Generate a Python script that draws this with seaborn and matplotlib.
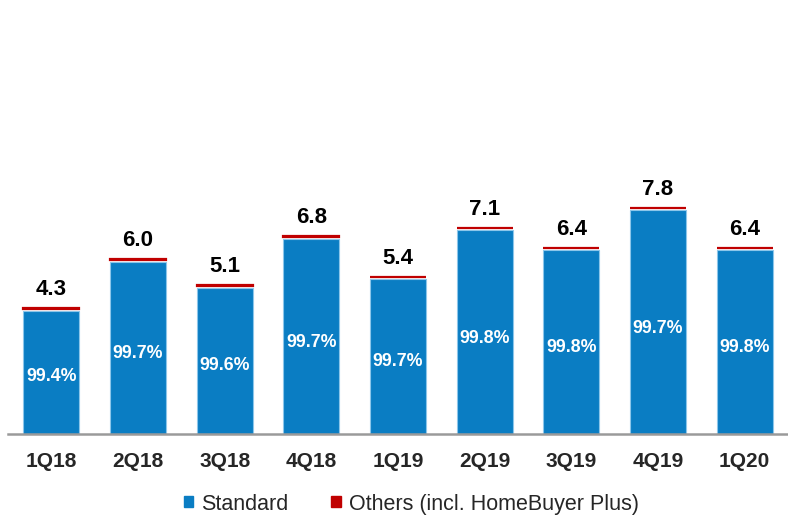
#!/usr/bin/env python3
import matplotlib
matplotlib.use("Agg")
import matplotlib.pyplot as plt
import pandas as pd
import seaborn as sns
from matplotlib.patches import Patch

QUARTERS = ["1Q18", "2Q18", "3Q18", "4Q18", "1Q19", "2Q19", "3Q19", "4Q19", "1Q20"]
TOTALS = [4.3, 6.0, 5.1, 6.8, 5.4, 7.1, 6.4, 7.8, 6.4]
STANDARD_PCT = [99.4, 99.7, 99.6, 99.7, 99.7, 99.8, 99.8, 99.7, 99.8]

BLUE = "#0A7DC3"
RED = "#C00000"

df = pd.DataFrame({"quarter": QUARTERS, "total": TOTALS, "pct": STANDARD_PCT})
df["standard"] = df["total"] * df["pct"] / 100.0
df["others"] = df["total"] - df["standard"]

sns.set_theme(style="white")
plt.rcParams["font.family"] = ["Liberation Sans", "DejaVu Sans"]

fig = plt.figure(figsize=(7.88, 5.17), dpi=100)
ax = fig.add_axes([8 / 788, 1 - 434 / 517, 1 - 8 / 788, 288 / 517])

sns.barplot(data=df, x="quarter", y="standard", color=BLUE, width=0.645,
            edgecolor="#8cc6ea", linewidth=0.8, saturation=1, ax=ax)
# thin "others" slice stacked on top; an edge keeps it visible at this scale
ax.bar(range(len(df)), df["others"], bottom=df["standard"] + 0.06, width=0.645,
       color=RED, edgecolor=RED, linewidth=1.6)

ax.set_xlim(-0.5, 8.5)
ax.set_ylim(0, 10)
ax.set_xlabel("")
ax.set_ylabel("")
ax.set_yticks([])
for s in ["top", "right", "left"]:
    ax.spines[s].set_visible(False)
ax.spines["bottom"].set_color("#9a9a9a")
ax.spines["bottom"].set_linewidth(1.8)
ax.tick_params(axis="x", length=0, pad=13)
for lbl in ax.get_xticklabels():
    lbl.set_fontweight("bold")
    lbl.set_fontsize(15)

for i, row in df.iterrows():
    ax.annotate(f"{row['total']:.1f}", (i, row["total"]), xytext=(0, 7),
                textcoords="offset points", ha="center", va="bottom",
                fontsize=16, fontweight="bold", color="black")
    ax.text(i, row["standard"] * 0.47, f"{row['pct']:.1f}%", ha="center", va="center",
            fontsize=12.8, fontweight="bold", color="white")

handles = [Patch(facecolor=BLUE, edgecolor=BLUE), Patch(facecolor=RED, edgecolor=RED)]
fig.legend(handles, ["Standard", "Others (incl. HomeBuyer Plus)"], loc="center",
           bbox_to_anchor=(0.522, 0.025), ncol=2, frameon=False, fontsize=15.5,
           handlelength=0.42, handleheight=0.42, handletextpad=0.4, columnspacing=2.0)

fig.savefig("out.png", dpi=100)
